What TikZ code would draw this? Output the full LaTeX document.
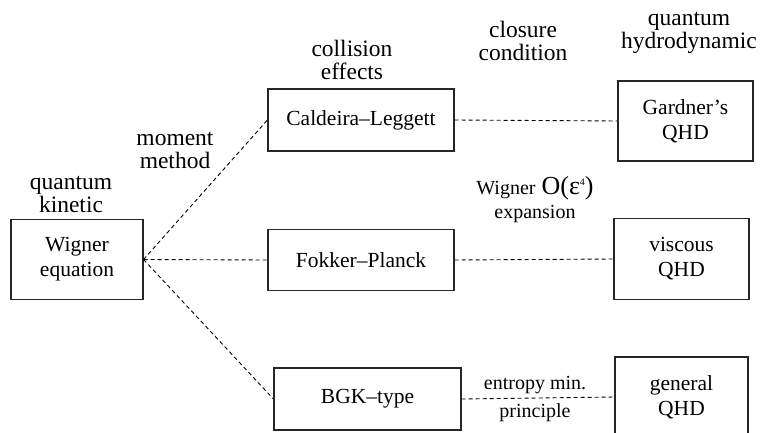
\documentclass[tikz,border=0pt]{standalone}
\usepackage{fontspec}
\setmainfont{Liberation Serif}
\newcommand\boxfont{\fontsize{21.5pt}{25pt}\selectfont}
\newcommand\lblfont{\fontsize{23.5pt}{23pt}\selectfont}
\newcommand\notefont{\fontsize{20pt}{24pt}\selectfont}
\begin{document}
\begin{tikzpicture}[x=1pt,y=-1pt,
  box/.style={draw=black!85, line width=1.1pt, inner sep=0pt, align=center, font=\boxfont},
  link/.style={draw=black, line width=0.9pt, dash pattern=on 4pt off 3pt},
  lbl/.style={align=center, inner sep=0pt, font=\lblfont},
  note/.style={align=center, inner sep=0pt, font=\notefont}]
\useasboundingbox (0,0) rectangle (763,433);

% boxes
\node[box, minimum width=132pt, minimum height=80pt] (wig) at (77,259.5) {Wigner\\equation};
\node[box, minimum width=186pt, minimum height=62pt] (cl) at (361,120) {Caldeira--Leggett};
\node[box, minimum width=186pt, minimum height=61pt] (fp) at (361,260) {Fokker--Planck};
\node[box, minimum width=187pt, minimum height=62pt] (bgk) at (367.5,399) {BGK--type};
\node[box, minimum width=135pt, minimum height=80pt] (gq) at (685.5,121) {Gardner's\\QHD};
\node[box, minimum width=135pt, minimum height=81pt] (vq) at (681.5,259) {viscous\\QHD};
\node[box, minimum width=133pt, minimum height=80pt] (genq) at (681.5,397) {general\\QHD};

% connectors
\draw[link] (wig.east) -- (cl.west);
\draw[link] (wig.east) -- (fp.west);
\draw[link] (wig.east) -- (bgk.west);
\draw[link] (cl.east) -- (gq.west);
\draw[link] (fp.east) -- (vq.west);
\draw[link] (bgk.east) -- (genq.west);

% column headings and edge notes
\node[lbl] (qk) at (71,194) {quantum\\kinetic};
\node[lbl] (mm) at (175,150) {moment\\method};
\node[lbl] (ce) at (352,60) {collision\\effects};
\node[lbl] (cc) at (523,41) {closure\\condition};
\node[lbl] (qh) at (689,33) {quantum\\hydrodynamic};
\node[note] (we) at (535,200) {Wigner\hspace{6pt}{\fontsize{26pt}{26pt}\selectfont O(ε\raisebox{9pt}{\fontsize{10pt}{10pt}\selectfont 4})}\\expansion};
\node[note] (emin) at (535,385) {entropy min.};
\node[note] (prin) at (535,413) {principle};
\end{tikzpicture}
\end{document}
